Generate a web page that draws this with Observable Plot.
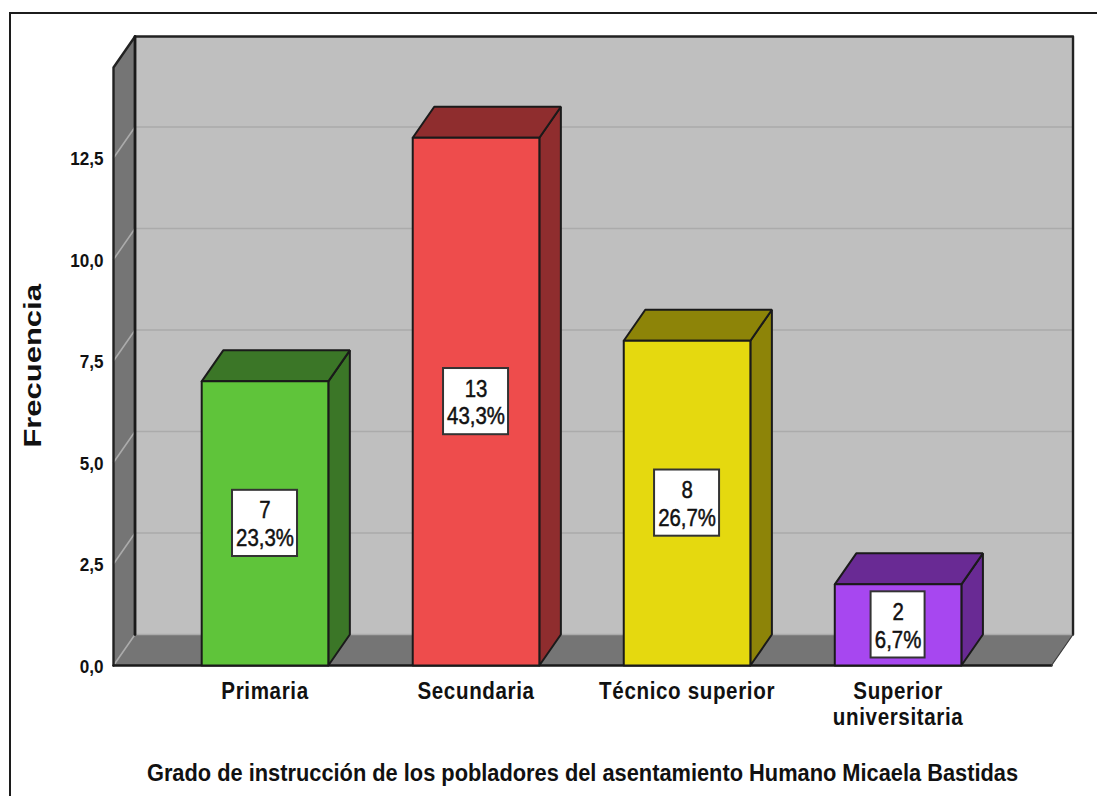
<!DOCTYPE html>
<html lang="es">
<head>
<meta charset="utf-8">
<script src="https://cdn.jsdelivr.net/npm/d3@7"></script>
<script src="https://cdn.jsdelivr.net/npm/@observablehq/plot@0.6"></script>
<style>
html,body{margin:0;padding:0;background:#fff;overflow:hidden;width:1097px;height:796px}
#chart{position:relative;width:1097px;height:796px}
#outer{position:absolute;left:9px;top:12px;right:0;bottom:0;border-top:2px solid #1c1c1c;border-left:2px solid #1c1c1c}
#chart svg{position:absolute;left:0;top:0}
.ls-x text{letter-spacing:.7px}
.val text{stroke:#111;stroke-width:.5px}
</style>
</head>
<body>
<div id="chart"><div id="outer"></div></div>
<script>
const categories = ["Primaria", "Secundaria", "Técnico superior", "Superior universitaria"];
const categoryLabels = ["Primaria", "Secundaria", "Técnico superior", "Superior\nuniversitaria"];
const counts = [7, 13, 8, 2];
const percents = ["23,3%", "43,3%", "26,7%", "6,7%"];
const frontColors = ["#5fc43a", "#ee4c4c", "#e5d90f", "#a747f0"];
const darkColors = ["#3b7627", "#8f2d2e", "#8d8408", "#692a94"];
const yTicks = [0, 2.5, 5, 7.5, 10, 12.5];

const xTitle = "Grado de instrucción de los pobladores del asentamiento Humano Micaela Bastidas";
const yTitle = "Frecuencia";

// Oblique projection, in data units
const depthX = 0.102, depthY = 0.763;
const xMin = -0.718, xMax = 3.727, yMax = 14.73;
const halfBar = 0.3;

const INK = "#1a1a1a";
const FONT = "'Liberation Sans',Arial,sans-serif";

const bars = categories.map((c, i) => ({
  i, c, v: counts[i], pct: percents[i], front: frontColors[i], dark: darkColors[i],
  x1: i - halfBar, x2: i + halfBar
}));

const face = (pts, fill, stroke = INK, strokeWidth = 2) =>
  Plot.line([...pts, pts[0]].map(([x, y]) => ({x, y})), {
    x: "x", y: "y", fill, stroke, strokeWidth, curve: "linear", strokeLinejoin: "miter"
  });
const seg = (pts, stroke, strokeWidth) =>
  Plot.line(pts.map(([x, y]) => ({x, y})), {x: "x", y: "y", stroke, strokeWidth, curve: "linear"});

const bx = xMin + depthX, tx = xMax + depthX;

const marks = [
  face([[xMin, 0], [bx, depthY], [bx, yMax + depthY], [xMin, yMax]], "#757575", "none", 0),
  face([[bx, depthY], [tx, depthY], [tx, yMax + depthY], [bx, yMax + depthY]], "#bfbfbf", "none", 0),
  face([[xMin, 0], [xMax, 0], [tx, depthY], [bx, depthY]], "#757575", "none", 0),
  ...yTicks.map(t => seg([[xMin, t], [bx, t + depthY], [tx, t + depthY]], "#ababab", 1.6)),
  seg([[xMin, 0], [xMin, yMax], [bx, yMax + depthY], [tx, yMax + depthY], [tx, depthY]], "#222", 2.4),
  seg([[bx, depthY], [bx, yMax + depthY]], INK, 2.8),
  seg([[xMin, 0], [xMax, 0]], INK, 2.4),
  seg([[xMax, 0], [tx, depthY]], "#3a3a3a", 1.2),
  ...bars.flatMap(b => [
    face([[b.x2, 0], [b.x2 + depthX, depthY], [b.x2 + depthX, b.v + depthY], [b.x2, b.v]], b.dark),
    face([[b.x1, b.v], [b.x2, b.v], [b.x2 + depthX, b.v + depthY], [b.x1 + depthX, b.v + depthY]], b.dark),
    face([[b.x1, 0], [b.x2, 0], [b.x2, b.v], [b.x1, b.v]], b.front)
  ]),
  Plot.rect(bars, {
    x1: d => d.i - (d.pct.length * 11 + 10) / 422,
    x2: d => d.i + (d.pct.length * 11 + 10) / 422,
    y1: d => d.v / 2 - 0.815,
    y2: d => d.v / 2 + 0.815,
    fill: "#fff", stroke: "#333", strokeWidth: 2
  }),
  Plot.text(bars, {
    x: "i", y: d => d.v / 2,
    text: d => `${d.v}\n${d.pct}`,
    fontFamily: FONT, fontSize: 24, fontWeight: 400, fill: "#111", lineHeight: 1.15, dy: 0,
    className: "val"
  }),
  Plot.axisY({
    ticks: yTicks, tickSize: 0, tickPadding: 10, label: null, dy: 1,
    tickFormat: t => t.toFixed(1).replace(".", ","),
    fontFamily: FONT, fontSize: 19, fontWeight: 700, fill: "#111",
    className: "tick-y"
  }),
  Plot.axisX({
    ticks: [0, 1, 2, 3], tickSize: 0, tickPadding: 15, label: null,
    tickFormat: i => categoryLabels[i],
    fontFamily: FONT, fontSize: 23, fontWeight: 700, fill: "#111", lineHeight: 1.13,
    className: "ls-x"
  }),
  Plot.text([xTitle], {
    x: () => (xMin + xMax) / 2, y: () => -2.66, text: d => d,
    fontFamily: FONT, fontSize: 23, fontWeight: 700, fill: "#111",
    className: "ls-title"
  }),
  Plot.text([yTitle], {
    frameAnchor: "left", textAnchor: "middle", dx: -80, y: () => 7.38, rotate: -90, text: d => d,
    fontFamily: FONT, fontSize: 24, fontWeight: 700, fill: "#111",
    className: "y-title"
  })
];

const plot = Plot.plot({
  width: 1097, height: 796,
  marginLeft: 113, marginRight: 46, marginTop: 67, marginBottom: 131,
  x: {domain: [xMin, xMax], axis: null},
  y: {domain: [0, yMax], axis: null},
  style: {background: "transparent", overflow: "visible"},
  marks
});
document.getElementById("chart").appendChild(plot);

// The reference's lettering is narrower or wider than the installed faces.
const refit = (cls, k) => {
  plot.querySelectorAll(`.${cls} text`).forEach(t => {
    const spans = t.querySelectorAll("tspan");
    (spans.length ? [...spans] : [t]).forEach(el => {
      el.setAttribute("textLength", el.getComputedTextLength() * k);
      el.setAttribute("lengthAdjust", "spacingAndGlyphs");
    });
  });
};
refit("val", 0.85);
refit("tick-y", 0.9);
refit("ls-x", 0.895);
refit("ls-title", 0.948);
refit("y-title", 1.29);
</script>
</body>
</html>
